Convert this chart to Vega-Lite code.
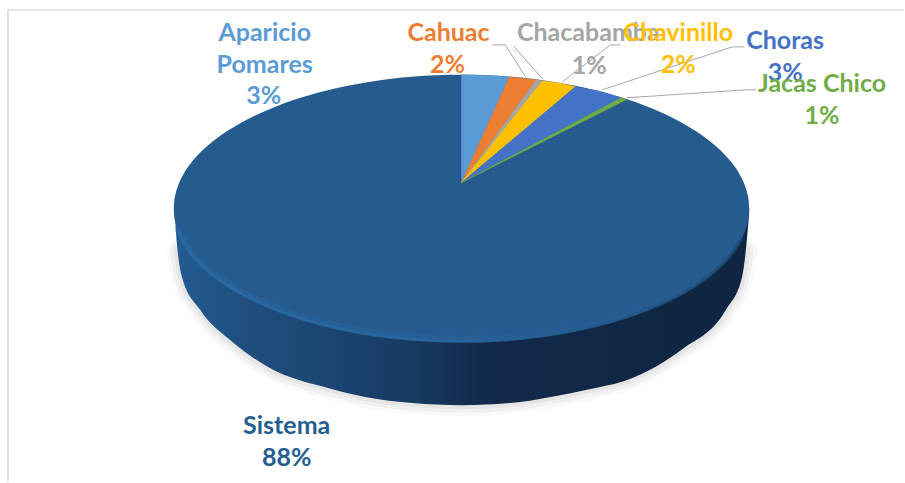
{"$schema":"https://vega.github.io/schema/vega-lite/v6.json","width":905,"height":483,"padding":0,"autosize":{"type":"fit","contains":"padding"},"background":"white","view":{"stroke":null},
"datasets":{
"top":[{"x":174,"y":209,"y2":209},{"x":174.4,"y":202,"y2":216},{"x":175.6,"y":195,"y2":223},{"x":178.4,"y":185.7,"y2":232.3},{"x":183.8,"y":174.3,"y2":243.7},{"x":191.4,"y":163.2,"y2":254.8},{"x":212.6,"y":142,"y2":276},{"x":241.4,"y":122.9,"y2":295.1},{"x":276.9,"y":106.4,"y2":311.6},{"x":318,"y":93,"y2":325},{"x":363.5,"y":83.1,"y2":334.9},{"x":412,"y":77,"y2":341},{"x":462,"y":75,"y2":343},{"x":512,"y":77,"y2":341},{"x":560.5,"y":83.1,"y2":334.9},{"x":606,"y":93,"y2":325},{"x":647.1,"y":106.4,"y2":311.6},{"x":682.6,"y":122.9,"y2":295.1},{"x":711.4,"y":142,"y2":276},{"x":732.6,"y":163.2,"y2":254.8},{"x":740.2,"y":174.3,"y2":243.7},{"x":745.6,"y":185.7,"y2":232.3},{"x":748.4,"y":195,"y2":223},{"x":749.6,"y":202,"y2":216},{"x":750,"y":209,"y2":209}],
"rim":[{"x":178.4,"y2":232.3},{"x":183.8,"y2":243.7},{"x":191.4,"y2":254.8},{"x":212.6,"y2":276},{"x":241.4,"y2":295.1},{"x":276.9,"y2":311.6},{"x":318,"y2":325},{"x":363.5,"y2":334.9},{"x":412,"y2":341},{"x":462,"y2":343},{"x":512,"y2":341},{"x":560.5,"y2":334.9},{"x":606,"y2":325},{"x":647.1,"y2":311.6},{"x":682.6,"y2":295.1},{"x":711.4,"y2":276},{"x":732.6,"y2":254.8},{"x":740.2,"y2":243.7}],
"side":[{"x":174,"y":209,"y2":209},{"x":175,"y":209,"y2":217},{"x":177,"y":209,"y2":243},{"x":182,"y":209,"y2":277},{"x":200,"y":209,"y2":310},{"x":233,"y":209,"y2":343},{"x":267,"y":209,"y2":367},{"x":333,"y":209,"y2":390},{"x":365.6,"y":209,"y2":397.8},{"x":413,"y":209,"y2":403.9},{"x":462,"y":209,"y2":406},{"x":511,"y":209,"y2":403.9},{"x":550,"y":209,"y2":398},{"x":590,"y":209,"y2":390},{"x":630,"y":209,"y2":380},{"x":683,"y":209,"y2":350},{"x":727,"y":209,"y2":310},{"x":743,"y":209,"y2":277},{"x":748,"y":209,"y2":237},{"x":750,"y":209,"y2":213}],
"shadow":[{"x":178,"y":250,"y2":250},{"x":182,"y":250,"y2":277},{"x":200,"y":250,"y2":310},{"x":233,"y":250,"y2":343},{"x":267,"y":250,"y2":367},{"x":333,"y":250,"y2":390},{"x":365.6,"y":250,"y2":397.8},{"x":413,"y":250,"y2":403.9},{"x":462,"y":250,"y2":406},{"x":511,"y":250,"y2":403.9},{"x":550,"y":250,"y2":398},{"x":590,"y":250,"y2":390},{"x":630,"y":250,"y2":380},{"x":683,"y":250,"y2":350},{"x":727,"y":250,"y2":310},{"x":743,"y":250,"y2":277},{"x":747,"y":250,"y2":250}],
"wedges":[
{"name":"Aparicio Pomares","x":462,"y":75,"y2":183},{"name":"Aparicio Pomares","x":486,"y":75.5,"y2":130},{"name":"Aparicio Pomares","x":510,"y":77,"y2":77},
{"name":"Cahuac","x":462,"y":183,"y2":183},{"name":"Cahuac","x":510,"y":77,"y2":117.1},{"name":"Cahuac","x":537,"y":80,"y2":80},
{"name":"Chacabamba","x":462,"y":183,"y2":183},{"name":"Chacabamba","x":537,"y":80,"y2":88.6},{"name":"Chacabamba","x":543,"y":81,"y2":81},
{"name":"Chavinillo","x":462,"y":183,"y2":183},{"name":"Chavinillo","x":543,"y":81,"y2":114.8},{"name":"Chavinillo","x":560,"y":83.2,"y2":100.5},{"name":"Chavinillo","x":576,"y":87,"y2":87},
{"name":"Choras","x":462,"y":183,"y2":183},{"name":"Choras","x":576,"y":87,"y2":122.4},{"name":"Choras","x":600,"y":91.3,"y2":109.7},{"name":"Choras","x":622,"y":98,"y2":98},
{"name":"Jacas Chico","x":462,"y":183,"y2":183},{"name":"Jacas Chico","x":622,"y":98,"y2":102.5},{"name":"Jacas Chico","x":627,"y":100,"y2":100}],
"leaders":[
{"id":"Cahuac","x":493,"y":45},{"id":"Cahuac","x":506,"y":45},{"id":"Cahuac","x":526,"y":77},
{"id":"Chacabamba","x":514,"y":46},{"id":"Chacabamba","x":543,"y":79},
{"id":"Chavinillo","x":563,"y":82},{"id":"Chavinillo","x":611,"y":45},{"id":"Chavinillo","x":621,"y":45},
{"id":"Choras","x":603,"y":90},{"id":"Choras","x":733,"y":47},{"id":"Choras","x":745,"y":47},
{"id":"Jacas Chico","x":627,"y":98},{"id":"Jacas Chico","x":747,"y":90},{"id":"Jacas Chico","x":757,"y":90}],
"labels":[
{"name":"Aparicio Pomares","text":"Aparicio","x":265,"y":32},{"name":"Aparicio Pomares","text":"Pomares","x":265,"y":64},{"name":"Aparicio Pomares","text":"3%","x":264,"y":95},
{"name":"Cahuac","text":"Cahuac","x":449,"y":32},{"name":"Cahuac","text":"2%","x":448,"y":64},
{"name":"Chacabamba","text":"Chacabamba","x":589,"y":32},{"name":"Chacabamba","text":"1%","x":590,"y":65},
{"name":"Chavinillo","text":"Chavinillo","x":679,"y":32},{"name":"Chavinillo","text":"2%","x":679,"y":64},
{"name":"Choras","text":"Choras","x":786,"y":40},{"name":"Choras","text":"3%","x":786,"y":72},
{"name":"Jacas Chico","text":"Jacas Chico","x":823,"y":83},{"name":"Jacas Chico","text":"1%","x":823,"y":115},
{"name":"Sistema","text":"Sistema","x":287,"y":426},{"name":"Sistema","text":"88%","x":287,"y":458}]
},
"encoding":{
"x":{"field":"x","type":"quantitative","scale":{"domain":[0,905],"nice":false,"zero":false},"axis":null},
"y":{"field":"y","type":"quantitative","scale":{"domain":[483,0],"nice":false,"zero":false},"axis":null}
},
"layer":[
{"data":{"values":[{"x":8,"y":10,"y2":483}]},"mark":{"type":"rule","color":"#d9d9d9","strokeWidth":1.6},"encoding":{"y2":{"field":"y2"}}},
{"data":{"values":[{"x":8,"x2":905,"y":10}]},"mark":{"type":"rule","color":"#d9d9d9","strokeWidth":1.6},"encoding":{"x2":{"field":"x2"}}},
{"data":{"name":"shadow"},"mark":{"type":"area","interpolate":"monotone","color":"#000000","stroke":"#000000","strokeWidth":22,"strokeJoin":"round","opacity":0.02,"yOffset":3},"encoding":{"y2":{"field":"y2"}}},
{"data":{"name":"shadow"},"mark":{"type":"area","interpolate":"monotone","color":"#000000","stroke":"#000000","strokeWidth":15,"strokeJoin":"round","opacity":0.03,"yOffset":3},"encoding":{"y2":{"field":"y2"}}},
{"data":{"name":"shadow"},"mark":{"type":"area","interpolate":"monotone","color":"#000000","stroke":"#000000","strokeWidth":8,"strokeJoin":"round","opacity":0.04,"yOffset":3},"encoding":{"y2":{"field":"y2"}}},
{"data":{"name":"side"},"mark":{"type":"area","interpolate":"monotone","color":{"gradient":"linear","x1":0,"y1":0,"x2":1,"y2":0,"stops":[{"offset":0,"color":"#235b92"},{"offset":0.12,"color":"#204f80"},{"offset":0.28,"color":"#1c4471"},{"offset":0.42,"color":"#173a60"},{"offset":0.55,"color":"#12294a"},{"offset":1,"color":"#0f2540"}]}},"encoding":{"y2":{"field":"y2"}}},
{"data":{"name":"top"},"mark":{"type":"area","interpolate":"monotone","color":"#255b8f"},"encoding":{"y2":{"field":"y2"}}},
{"data":{"name":"rim"},"mark":{"type":"line","interpolate":"monotone","strokeWidth":7,"opacity":0.3,"yOffset":-3,"strokeCap":"round","stroke":{"gradient":"linear","x1":0,"y1":0,"x2":1,"y2":0,"stops":[{"offset":0,"color":"#2c70ad"},{"offset":0.5,"color":"#2a6aa5"},{"offset":1,"color":"#25598c"}]}},"encoding":{"y":{"field":"y2","type":"quantitative"}}},
{"data":{"name":"rim"},"mark":{"type":"line","interpolate":"monotone","strokeWidth":3,"opacity":0.55,"yOffset":-1,"strokeCap":"round","stroke":{"gradient":"linear","x1":0,"y1":0,"x2":1,"y2":0,"stops":[{"offset":0,"color":"#2c70ad"},{"offset":0.5,"color":"#2a6aa5"},{"offset":1,"color":"#1a4569"}]}},"encoding":{"y":{"field":"y2","type":"quantitative"}}},
{"data":{"name":"wedges"},"mark":{"type":"area","strokeWidth":0.5},"encoding":{"y2":{"field":"y2"},"color":{"field":"name","type":"nominal","legend":null,"scale":{"domain":["Aparicio Pomares","Cahuac","Chacabamba","Chavinillo","Choras","Jacas Chico","Sistema"],"range":["#5b9bd5","#ed7d31","#a5a5a5","#ffc000","#4472c4","#70ad47","#255e91"]}},"stroke":{"field":"name","type":"nominal","legend":null,"scale":{"domain":["Aparicio Pomares","Cahuac","Chacabamba","Chavinillo","Choras","Jacas Chico","Sistema"],"range":["#5b9bd5","#ed7d31","#a5a5a5","#ffc000","#4472c4","#70ad47","#255e91"]}}}},
{"data":{"name":"leaders"},"mark":{"type":"line","color":"#a6a6a6","strokeWidth":1},"encoding":{"detail":{"field":"id"}}},
{"data":{"name":"labels"},"mark":{"type":"text","font":"Lato","fontWeight":"bold","fontSize":25,"align":"center","baseline":"middle","dy":1},"encoding":{"text":{"field":"text"},"color":{"field":"name","type":"nominal","legend":null,"scale":{"domain":["Aparicio Pomares","Cahuac","Chacabamba","Chavinillo","Choras","Jacas Chico","Sistema"],"range":["#5b9bd5","#ed7d31","#a5a5a5","#ffc000","#4472c4","#70ad47","#255e91"]}}}}
]}
